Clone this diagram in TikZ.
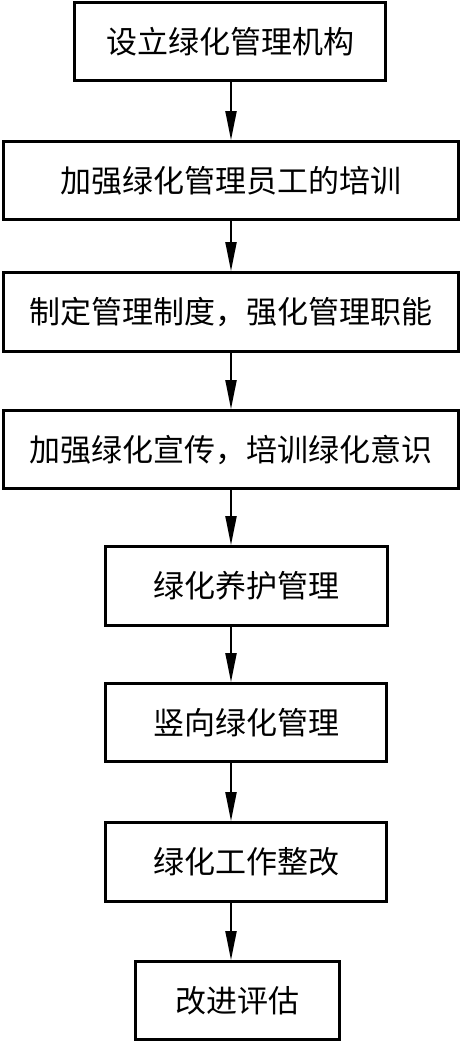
\documentclass[tikz,border=0pt]{standalone}
\usepackage{fontspec}
\newfontfamily\cjk{Noto Sans CJK SC}
\usetikzlibrary{arrows.meta}
\begin{document}
\begin{tikzpicture}[x=1pt,y=-1pt,
  box/.style={draw, line width=2.8pt, inner sep=0pt, minimum height=78pt,
    font=\cjk\fontsize{31}{31}\selectfont},
  arr/.style={line width=2pt, -{Triangle[length=29pt,width=11pt]}}]
\useasboundingbox (0,0) rectangle (461,1043);
\node[box, minimum width=311pt] (b1) at (230,41.5) {设立绿化管理机构};
\node[box, minimum width=455pt] (b2) at (231,180.5) {加强绿化管理员工的培训};
\node[box, minimum width=455pt, minimum height=79pt] (b3) at (231,312) {制定管理制度，强化管理职能};
\node[box, minimum width=455pt] (b4) at (231,449.5) {加强绿化宣传，培训绿化意识};
\node[box, minimum width=282pt, minimum height=79pt] (b5) at (246.5,586) {绿化养护管理};
\node[box, minimum width=281pt] (b6) at (246,722.5) {竖向绿化管理};
\node[box, minimum width=281pt, minimum height=79pt] (b7) at (246,862) {绿化工作整改};
\node[box, minimum width=204pt] (b8) at (237.5,1000.5) {改进评估};
\coordinate (ax) at (231,0);
\draw[arr] (b1.south -| ax) -- (b2.north -| ax);
\draw[arr] (b2.south -| ax) -- (b3.north -| ax);
\draw[arr] (b3.south -| ax) -- (b4.north -| ax);
\draw[arr] (b4.south -| ax) -- (b5.north -| ax);
\draw[arr] (b5.south -| ax) -- (b6.north -| ax);
\draw[arr] (b6.south -| ax) -- (b7.north -| ax);
\draw[arr] (b7.south -| ax) -- (b8.north -| ax);
\end{tikzpicture}
\end{document}
